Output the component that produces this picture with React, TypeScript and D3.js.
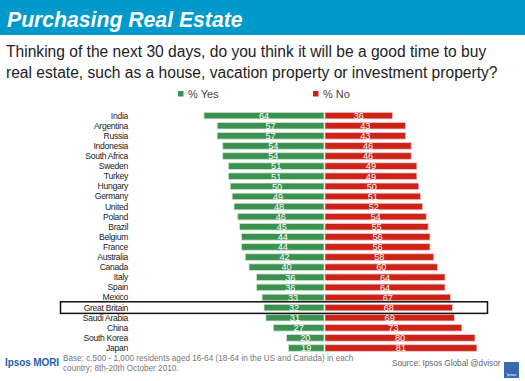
import React from "react";
import * as d3 from "d3";

const countries = ["India","Argentina","Russia","Indonesia","South Africa","Sweden","Turkey","Hungary","Germany","United","Poland","Brazil","Belgium","France","Australia","Canada","Italy","Spain","Mexico","Great Britain","Saudi Arabia","China","South Korea","Japan"];
const yes = [64,57,57,54,54,51,51,50,49,48,46,45,44,44,42,40,36,36,33,32,31,27,20,19];
const no = [36,43,43,46,46,49,49,50,51,52,54,55,56,56,58,60,64,64,67,68,69,73,80,81];
const legendLabels = ["% Yes", "% No"];
const highlight = "Great Britain";

const W = 525, H = 381;
const GREEN = "#3b9150";
const RED = "#cc2218";
const FONT = "'Liberation Sans', Arial, sans-serif";

export default function App() {
  const cx = 324.5;
  const x = d3.scaleLinear().domain([0, 100]).range([0, 187.5]);
  const y = d3.scaleBand<string>().domain(countries).range([110.6, 353.0]).paddingInner(0.35).paddingOuter(0.17);
  const bh = y.bandwidth();
  const hy = (y(highlight) ?? 0) + bh / 2;
  return (
    <svg width={W} height={H} style={{ position: "absolute", left: 0, top: 0 }} fontFamily={FONT}>
      <rect x={0} y={0} width={W} height={H} fill="#fff" />
      <rect x={0} y={0} width={W} height={35} fill="#0099cc" />
      <text x={7} y={27} fill="#fff" fontSize={21.2} fontWeight="bold" fontStyle="italic">Purchasing Real Estate</text>
      <text x={6} y={57} fill="#222" fontSize={15.6}>Thinking of the next 30 days, do you think it will be a good time to buy</text>
      <text x={6} y={78} fill="#222" fontSize={15.6}>real estate, such as a house, vacation property or investment property?</text>
      <rect x={178} y={91} width={5.5} height={5.5} fill={GREEN} />
      <text x={188} y={97.5} fill="#444" fontSize={11}>{legendLabels[0]}</text>
      <rect x={313} y={91} width={5.5} height={5.5} fill={RED} />
      <text x={323} y={97.5} fill="#444" fontSize={11}>{legendLabels[1]}</text>
      {countries.map((c, i) => {
        const yy = y(c) ?? 0;
        const wy = x(yes[i]);
        const wn = x(no[i]);
        return (
          <g key={c}>
            <text x={128} y={yy + bh / 2 + 3} textAnchor="end" fontSize={8.6} fill="#222" letterSpacing={-0.3}>{c}</text>
            <rect x={cx - 0.5 - wy} y={yy} width={wy} height={bh} fill={GREEN} stroke="#cfe3d3" strokeWidth={0.8} />
            <rect x={cx + 0.5} y={yy} width={wn} height={bh} fill={RED} stroke="#f0c8c4" strokeWidth={0.8} />
            <text x={cx - 0.5 - wy / 2} y={yy + bh / 2 + 3.3} textAnchor="middle" fontSize={9.2} fill="#fff">{yes[i]}</text>
            <text x={cx + 0.5 + wn / 2} y={yy + bh / 2 + 3.3} textAnchor="middle" fontSize={9.2} fill="#fff">{no[i]}</text>
          </g>
        );
      })}
      <rect x={60.5} y={hy - 5.8} width={427} height={11.6} fill="none" stroke="#111" strokeWidth={1.5} />
      <text x={5} y={365.5} fill="#1f5fa8" fontSize={10} fontWeight="bold" letterSpacing={-0.1}>Ipsos MORI</text>
      <text x={63} y={361} fill="#777" fontSize={8.2}>Base: c.500 - 1,000 residents aged 16-64 (18-64 in the US and Canada) in each</text>
      <text x={63} y={371} fill="#777" fontSize={8.2}>country; 8th-20th October 2010.</text>
      <text x={392} y={366} fill="#666" fontSize={8.2}>Source: Ipsos Global @dvisor</text>
      <rect x={504} y={362} width={15} height={16} fill="#3a68b0" />
      <text x={511.5} y={376} textAnchor="middle" fill="#fff" fontSize={4}>Ipsos</text>
    </svg>
  );
}
